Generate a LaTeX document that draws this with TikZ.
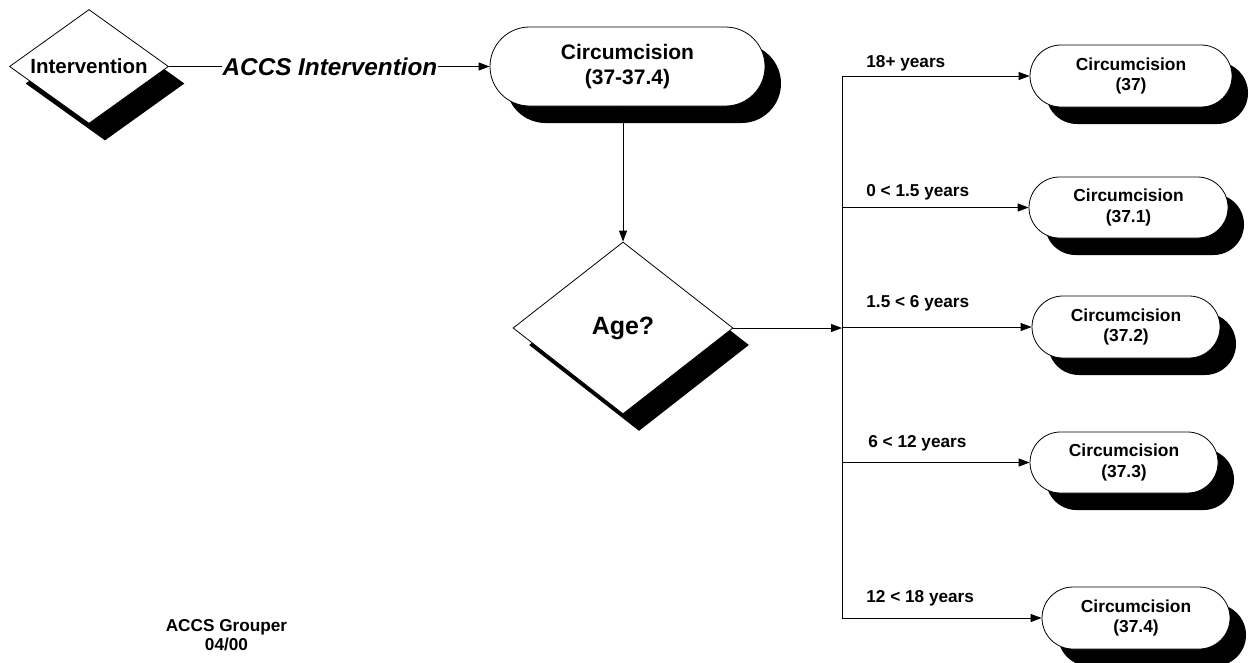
\documentclass[tikz,border=0pt]{standalone}
\usepackage{fontspec}
\setmainfont{Liberation Sans}
\usetikzlibrary{arrows.meta,shapes.geometric,shapes.misc,shadows}

\begin{document}
\begin{tikzpicture}[x=1pt,y=-1pt,
  line width=0.8pt,
  arr/.style={-{Triangle[length=11pt,width=8pt]}},
  shad/.style={drop shadow={shadow xshift=16pt,shadow yshift=-17pt,fill=black,opacity=1}},
  term/.style={rounded rectangle,draw,fill=white,shad,inner sep=0pt,align=center,
    font=\bfseries\fontsize{17.4}{20.5}\selectfont},
  dec/.style={diamond,draw,fill=white,shad,inner sep=0pt},
  lbl/.style={font=\bfseries\fontsize{17.2}{20}\selectfont,inner sep=0pt,anchor=west},
]
\useasboundingbox (0,0) rectangle (1249,662);

% decision diamonds
\node[dec,aspect=1.4,minimum width=159pt,minimum height=114pt,
  font=\bfseries\fontsize{20.5}{24}\selectfont] (int) at (89,66.5) {Intervention};
\node[font=\bfseries\itshape\fontsize{24.3}{28}\selectfont,inner sep=0.5pt] (accs) at (330,66.5) {ACCS Intervention};
\node[term,minimum width=275pt,minimum height=79pt,
  font=\bfseries\fontsize{21}{25}\selectfont] (top) at (627.5,66.5) {Circumcision\\(37-37.4)};
\node[dec,aspect=1.28,minimum width=220pt,minimum height=172pt,
  font=\bfseries\fontsize{25}{30}\selectfont] (age) at (623,328) {Age?};

% terminal boxes
\node[term,minimum width=202pt,minimum height=62pt] (c1) at (1131,76) {Circumcision\\(37)};
\node[term,minimum width=199pt,minimum height=61pt] (c2) at (1128.5,207.5) {Circumcision\\(37.1)};
\node[term,minimum width=188pt,minimum height=62pt] (c3) at (1126,327) {Circumcision\\(37.2)};
\node[term,minimum width=188pt,minimum height=61pt] (c4) at (1124,462.5) {Circumcision\\(37.3)};
\node[term,minimum width=188pt,minimum height=62pt] (c5) at (1136,618) {Circumcision\\(37.4)};

% connectors
\draw (int.east) -- (accs.west);
\draw[arr] (accs.east) -- (top.west);
\draw[arr] (age.north |- top.south) -- (age.north);

\coordinate (bus) at (842,328);
\draw[arr] (age.east) -- (bus);
\draw (bus |- c1.west) -- (bus |- c5.west);
\foreach \i in {1,...,5} \draw[arr] (bus |- c\i.west) -- (c\i.west);

% labels
\node[lbl] (l1) at (866,63) {18+ years};
\node[lbl] (l2) at (866,192) {0 < 1.5 years};
\node[lbl] (l3) at (866,303) {1.5 < 6 years};
\node[lbl] (l4) at (868,443) {6 < 12 years};
\node[lbl] (l5) at (866,598) {12 < 18 years};

\node[font=\bfseries\fontsize{17.2}{19.5}\selectfont,align=center,inner sep=0pt] (grp) at (226.5,635) {ACCS Grouper\\04/00};
\end{tikzpicture}
\end{document}
